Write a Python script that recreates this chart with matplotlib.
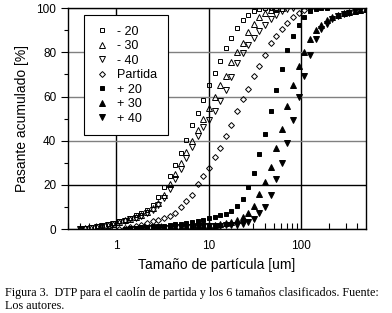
import numpy as np
import matplotlib.pyplot as plt
from matplotlib.ticker import FixedLocator, NullFormatter, FuncFormatter

plt.rcParams['font.family'] = ['Liberation Sans', 'DejaVu Sans']

nan = np.nan

# particle sizes [um] (common bins)
size = [0.40, 0.46, 0.53, 0.61, 0.70, 0.81, 0.93, 1.07, 1.23, 1.41,
        1.62, 1.86, 2.14, 2.46, 2.83, 3.26, 3.75, 4.31, 4.96, 5.70,
        6.56, 7.54, 8.67, 9.97, 11.5, 13.2, 15.2, 17.4, 20.1, 23.1,
        26.5, 30.5, 35.1, 40.3, 46.4, 53.3, 61.3, 70.5, 81.1, 93.2,
        107, 123, 142, 163, 187, 215, 248, 285, 327, 376,
        433, 498]

# cumulative passing [%]
m20 = [0.2, 0.5, 0.8, 1.2, 1.6, 2.2, 2.9, 3.6, 4.3, 5.2,
       6.2, 7.3, 8.5, 11.0, 14.5, 19.0, 24.0, 29.0, 34.5, 40.3,
       47.0, 52.5, 58.5, 65.0, 70.5, 76.0, 82.0, 86.5, 91.0, 94.5,
       97.0, 98.8, 99.6, 100, 100, 100, nan, nan, nan, nan,
       nan, nan, nan, nan, nan, nan, nan, nan, nan, nan, nan, nan]
m30 = [0.1, 0.3, 0.6, 1.0, 1.4, 1.9, 2.5, 3.2, 3.9, 4.7,
       5.6, 6.6, 7.8, 9.5, 12.0, 15.5, 20.5, 25.0, 30.0, 35.0,
       40.0, 45.0, 50.0, 55.0, 60.0, 65.0, 69.5, 75.5, 80.0, 84.0,
       89.0, 93.0, 96.0, 98.0, 99.3, 100, 100, nan, nan, nan,
       nan, nan, nan, nan, nan, nan, nan, nan, nan, nan, nan, nan]
m40 = [0.1, 0.2, 0.5, 0.8, 1.2, 1.7, 2.3, 3.0, 3.7, 4.4,
       5.2, 6.1, 7.2, 8.8, 11.0, 14.0, 18.0, 22.5, 27.0, 32.0,
       37.0, 42.0, 46.0, 49.5, 53.5, 58.0, 63.0, 69.0, 75.0, 79.5,
       83.5, 86.5, 89.5, 92.5, 95.0, 97.0, 98.5, 99.5, 100, nan,
       nan, nan, nan, nan, nan, nan, nan, nan, nan, nan, nan, nan]
partida = [nan, nan, nan, nan, nan, nan, nan, 0.2, 0.5, 0.9,
           1.4, 2.0, 2.7, 3.5, 4.2, 5.2, 6.0, 7.5, 10.0, 12.7,
           15.4, 20.3, 24.0, 27.5, 32.5, 36.5, 42.0, 47.0, 53.5, 59.0,
           63.5, 69.4, 74.0, 79.0, 84.0, 87.5, 90.5, 93.5, 96.0, 98.0,
           99.3, 100, 100, nan, nan, nan, nan, nan, nan, nan, nan, nan]
p20 = [nan, nan, nan, nan, nan, nan, nan, nan, 0.2, 0.4,
       0.6, 0.8, 1.0, 1.2, 1.4, 1.6, 1.9, 2.2, 2.5, 2.9,
       3.3, 3.7, 4.3, 5.0, 5.6, 6.2, 7.0, 8.0, 10.5, 13.8,
       18.9, 25.5, 34.0, 43.0, 53.5, 63.0, 72.5, 81.0, 87.5, 92.5,
       96.0, 98.5, 99.5, 100, 100, nan, nan, nan, nan, nan, nan, nan]
p30 = [nan, nan, nan, nan, nan, nan, nan, nan, nan, 0.1,
       0.2, 0.3, 0.4, 0.5, 0.6, 0.7, 0.8, 0.9, 1.0, 1.1,
       1.2, 1.4, 1.6, 1.8, 2.0, 2.3, 2.7, 3.2, 4.0, 5.4,
       7.4, 10.6, 16.0, 21.5, 28.0, 36.5, 45.5, 55.5, 65.0, 74.0,
       80.0, 86.0, 90.0, 92.5, 94.5, 96.0, 97.0, 97.7, 98.3, 98.8,
       99.2, 99.5]
p40 = [nan, nan, nan, nan, nan, nan, nan, nan, nan, nan,
       0.1, 0.2, 0.3, 0.4, 0.5, 0.6, 0.7, 0.8, 0.9, 1.0,
       1.1, 1.2, 1.3, 1.4, 1.5, 1.6, 1.7, 1.8, 2.0, 2.5,
       3.3, 4.6, 7.2, 10.0, 15.5, 22.5, 30.0, 39.0, 49.5, 60.0,
       69.5, 79.0, 86.0, 90.5, 93.0, 95.0, 96.3, 97.3, 98.0, 98.6,
       99.0, 99.4]

fig = plt.figure(figsize=(3.92, 3.13), dpi=100)
ax = fig.add_axes([0.1735, 0.268, 0.7605, 0.706])

series = [
    (m20, 's', 'none', 3.0, '- 20'),
    (m30, '^', 'none', 4.0, '- 30'),
    (m40, 'v', 'none', 4.0, '- 40'),
    (partida, 'D', 'none', 3.0, 'Partida'),
    (p20, 's', 'black', 3.5, '+ 20'),
    (p30, '^', 'black', 5.0, '+ 30'),
    (p40, 'v', 'black', 5.0, '+ 40'),
]
for vals, mk, fc, ms, lab in series:
    ax.plot(size, vals, linestyle='none', marker=mk, markersize=ms,
            markerfacecolor=fc, markeredgecolor='black', markeredgewidth=0.7,
            label=lab, zorder=3)

ax.set_xscale('log')
ax.set_xlim(0.3, 500)
ax.set_ylim(0, 100)

ax.xaxis.set_major_locator(FixedLocator([1, 10, 100]))
ax.xaxis.set_major_formatter(FuncFormatter(lambda v, p: '%g' % v))
ax.xaxis.set_minor_locator(FixedLocator(
    [0.3, 0.4, 0.5, 0.6, 0.7, 0.8, 0.9, 2, 3, 4, 5, 6, 7, 8, 9,
     20, 30, 40, 50, 60, 70, 80, 90, 200, 300, 400]))
ax.xaxis.set_minor_formatter(NullFormatter())
ax.set_yticks([0, 20, 40, 60, 80, 100])
ax.set_yticks([10, 30, 50, 70, 90], minor=True)

ax.tick_params(axis='x', which='major', direction='in', length=0, labelsize=8.5, pad=8)
ax.tick_params(axis='x', which='minor', direction='in', length=4, width=0.8)
ax.tick_params(axis='y', which='major', direction='out', length=5, width=0.8, labelsize=8.5)
ax.tick_params(axis='y', which='minor', direction='out', length=3, width=0.8)

ax.grid(True, axis='x', which='major', color='black', linewidth=1.0)
ax.grid(True, axis='y', which='major', color='#808080', linewidth=1.0)
ax.get_ygridlines()[1].set_color('black')
ax.set_axisbelow(True)
for sp in ax.spines.values():
    sp.set_linewidth(1.0)

ax.set_xlabel('Tamaño de partícula [um]', fontsize=10, labelpad=4)
ax.set_ylabel('Pasante acumulado [%]', fontsize=10, labelpad=5)

leg = ax.legend(loc='upper left', bbox_to_anchor=(0.054, 0.968), fontsize=9,
                frameon=True, fancybox=False, edgecolor='black', framealpha=1,
                handletextpad=0.6, labelspacing=0.2, borderpad=0.85,
                handlelength=1.2, borderaxespad=0)
leg.get_frame().set_linewidth(0.8)

fig.text(0.013, 0.054, 'Figura 3.  DTP para el caolín de partida y los 6 tamaños clasificados. Fuente:',
         fontsize=8.7, family='Liberation Serif', va='baseline')
fig.text(0.013, 0.013, 'Los autores.', fontsize=8.7, family='Liberation Serif', va='baseline')

fig.savefig('out.png', dpi=100)
